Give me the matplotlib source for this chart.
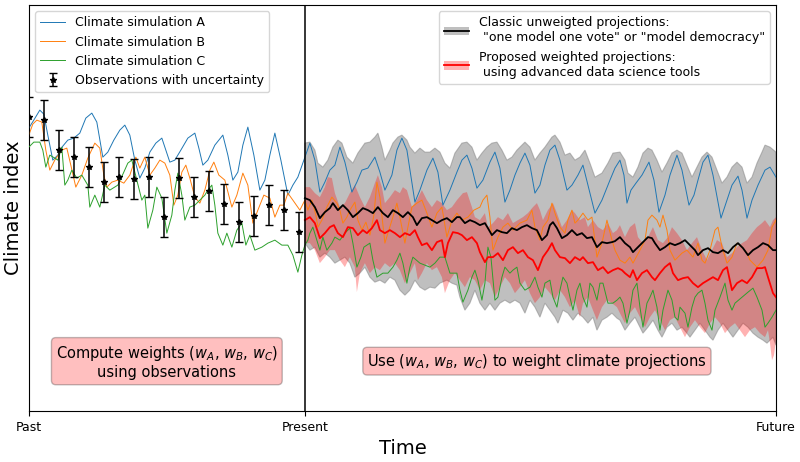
import matplotlib.pyplot as plt
from matplotlib.patches import Patch
from matplotlib.lines import Line2D

# Time axis labels
tick_pos = [29, 305, 776]
tick_labels = ['Past', 'Present', 'Future']
present = 305

# Climate simulation A (blue)
a_time = [29, 34, 40, 44, 48, 53, 58, 63, 68, 74, 80, 86, 92, 97, 103, 108, 114, 120, 125, 130,
          135, 140, 145, 150, 156, 162, 166, 170, 175, 181, 188, 195, 199, 203, 208, 215, 223, 228, 233, 238,
          243, 248, 254, 260, 265, 270, 275, 281, 288, 293, 298, 305,
          310, 315, 320, 325, 330, 335, 340, 345, 352, 357, 362, 368, 375, 380, 385, 392, 397, 402,
          407, 415, 420, 427, 433, 438, 443, 450, 457, 462, 467, 472, 477, 483, 490, 495, 500, 505,
          510, 515, 520, 525, 530, 535, 540, 545, 550, 555, 560, 567, 572, 578, 583, 588, 595, 602,
          610, 615, 620, 624, 627, 631, 636, 642, 649, 654, 659, 665, 670, 677, 682, 689, 694, 698,
          703, 708, 713, 721, 727, 732, 738, 742, 747, 752, 758, 765, 770, 776]
a_value = [283, 291, 301, 297, 276, 251, 256, 265, 271, 273, 278, 293, 298, 289, 254, 259, 271, 281, 286, 276,
           251, 233, 243, 259, 268, 273, 261, 249, 251, 261, 273, 278, 263, 246, 251, 266, 276, 256, 231, 239,
           266, 284, 256, 221, 231, 256, 278, 251, 216, 226, 234, 254,
           268, 251, 219, 229, 241, 246, 264, 249, 219, 229, 241, 243, 254, 239, 221, 236, 261, 273,
           261, 209, 221, 241, 253, 239, 206, 221, 239, 251, 256, 243, 223, 231, 249, 259, 243, 209,
           221, 236, 248, 258, 246, 218, 226, 246, 261, 266, 251, 221, 226, 236, 246, 226, 198, 211,
           231, 243, 251, 236, 208, 221, 228, 236, 249, 231, 199, 216, 236, 256, 241, 206, 216, 231,
           249, 256, 236, 193, 211, 226, 235, 221, 193, 211, 226, 241, 244, 234]

# Climate simulation B (orange)
b_time = [29, 33, 37, 42, 46, 50, 55, 62, 67, 71, 76, 82, 88, 95, 100, 104, 107, 112, 118, 124,
          130, 136, 140, 145, 150, 155, 160, 165, 170, 174, 178, 182, 186, 190, 195, 200, 205, 210, 214, 219,
          225, 232, 237, 243, 248, 253, 258, 264, 270, 275, 280, 284, 288, 293, 300, 305,
          308, 312, 316, 318, 322, 327, 332, 337, 340, 343, 347, 350, 355, 358, 362, 366, 370, 374,
          377, 380, 385, 388, 393, 397, 400, 405, 408, 412, 417, 422, 427, 432, 437, 442, 447, 452,
          457, 462, 468, 474, 480, 483, 487, 490, 493, 498, 503, 508, 513, 520, 527, 532, 535, 540,
          543, 548, 552, 555, 560, 565, 568, 572, 575, 578, 583, 588, 592, 597, 602, 607, 612, 615,
          620, 625, 630, 633, 640, 645, 648, 652, 657, 660, 663, 667, 670, 675, 682, 687, 693, 698,
          702, 705, 710, 715, 718, 722, 727, 732, 737, 742, 747, 750, 757, 763, 768, 772, 776]
b_value = [276, 287, 291, 289, 261, 241, 251, 261, 263, 246, 224, 236, 253, 268, 263, 236, 224, 229, 231, 228,
           236, 254, 243, 254, 236, 243, 251, 248, 236, 206, 216, 239, 246, 233, 214, 208, 221, 241, 249, 236,
           231, 204, 216, 238, 226, 188, 201, 216, 213, 194, 206, 206, 218, 211, 201, 211,
           201, 211, 196, 184, 191, 204, 214, 208, 201, 188, 194, 201, 209, 191, 181, 189, 176, 196,
           229, 214, 168, 178, 194, 208, 194, 168, 184, 204, 208, 211, 198, 184, 198, 204, 174, 191,
           198, 191, 194, 201, 204, 211, 216, 194, 161, 174, 184, 188, 181, 188, 191, 201, 184, 171,
           184, 191, 208, 198, 184, 178, 191, 201, 188, 191, 198, 191, 194, 154, 168, 191, 171, 161,
           151, 148, 154, 148, 161, 171, 191, 196, 191, 184, 196, 181, 161, 151, 158, 161, 154, 168,
           151, 148, 161, 181, 184, 164, 148, 154, 168, 164, 158, 151, 144, 151, 161, 184, 191]

# Climate simulation C (green)
c_time = [29, 34, 40, 43, 46, 50, 55, 58, 62, 65, 68, 72, 77, 82, 88, 90, 95, 100, 105, 110,
          118, 124, 128, 132, 137, 142, 145, 148, 153, 157, 162, 167, 172, 175, 178, 182, 185, 190, 195, 200,
          205, 208, 212, 215, 218, 223, 227, 232, 237, 242, 246, 250, 255, 262, 268, 275, 282, 288, 293, 298,
          302, 305,
          308, 310, 313, 317, 320, 323, 327, 332, 335, 340, 345, 350, 353, 357, 361, 364, 370, 373,
          377, 383, 388, 393, 397, 400, 403, 407, 410, 413, 420, 430, 435, 440, 445, 450, 457, 460,
          463, 468, 472, 475, 478, 482, 485, 488, 491, 495, 498, 502, 505, 510, 513, 517, 520, 525,
          530, 535, 538, 542, 545, 550, 553, 557, 560, 563, 567, 570, 573, 577, 580, 583, 587, 590,
          593, 597, 600, 603, 608, 613, 617, 620, 623, 627, 630, 633, 637, 640, 643, 647, 650, 653,
          657, 660, 663, 668, 672, 675, 678, 680, 685, 688, 692, 695, 698, 702, 705, 708, 712, 715,
          720, 725, 728, 732, 735, 742, 748, 753, 757, 762, 765, 768, 772, 776]
c_value = [264, 269, 269, 261, 244, 256, 253, 251, 264, 226, 231, 241, 233, 236, 226, 204, 216, 204, 226, 221,
           226, 239, 248, 251, 231, 211, 216, 183, 201, 224, 213, 178, 196, 221, 238, 216, 191, 204, 206, 211,
           216, 221, 226, 206, 178, 166, 178, 164, 181, 188, 166, 176, 161, 164, 168, 171, 166, 166, 156, 139,
           156, 166,
           171, 178, 184, 171, 161, 174, 161, 168, 174, 171, 178, 183, 168, 144, 154, 164, 168, 151,
           134, 138, 138, 144, 151, 158, 148, 128, 144, 154, 148, 144, 148, 154, 154, 138, 138, 121,
           109, 121, 134, 141, 131, 111, 128, 164, 154, 111, 114, 134, 144, 138, 141, 144, 128, 121,
           124, 134, 124, 114, 128, 131, 114, 104, 121, 134, 128, 114, 101, 121, 128, 114, 104, 128,
           124, 111, 128, 128, 108, 108, 111, 114, 108, 88, 101, 121, 128, 104, 84, 108, 114, 121,
           104, 81, 101, 121, 111, 94, 91, 104, 98, 84, 104, 114, 118, 121, 108, 91, 81, 101,
           114, 128, 111, 101, 108, 114, 119, 123, 114, 101, 84, 88, 94, 101]

# Observations with uncertainty
obs_time = [29, 44, 59, 74, 89, 104, 119, 134, 149, 164, 179, 194, 209, 224, 239, 254, 269, 284, 299]
obs_value = [294, 291, 261, 254, 244, 229, 234, 232, 234, 194, 233, 214, 220, 207, 189, 195, 206, 201, 179]
obs_error = 20

# Classic unweighted projections: mean and envelope
mean_time = [305, 310, 315, 320, 325, 330, 333, 338, 343, 348, 353, 358, 363, 368, 373, 378, 383, 388, 393, 398,
             403, 408, 413, 417, 422, 427, 432, 437, 442, 447, 452, 457, 460, 465, 470, 475, 480, 485, 488, 492,
             497, 502, 507, 512, 517, 522, 527, 532, 537, 542, 547, 550, 553, 557, 562, 567, 572, 577, 582, 587,
             592, 597, 602, 607, 612, 615, 620, 625, 630, 633, 638, 643, 648, 652, 655, 660, 665, 670, 675, 680,
             685, 690, 695, 698, 703, 708, 713, 718, 723, 728, 733, 738, 743, 748, 753, 758, 763, 768, 773, 776]
mean_value = [213, 211, 204, 193, 199, 203, 208, 201, 206, 201, 194, 198, 203, 201, 198, 204, 198, 194, 201, 198,
              194, 199, 194, 186, 193, 194, 191, 188, 191, 193, 189, 194, 194, 188, 191, 189, 186, 188, 183, 176,
              181, 179, 178, 183, 181, 184, 186, 183, 181, 171, 176, 186, 189, 183, 173, 176, 181, 176, 178, 173,
              174, 164, 169, 168, 169, 170, 174, 168, 164, 159, 164, 169, 174, 173, 168, 161, 164, 168, 166, 168,
              171, 166, 161, 156, 161, 163, 159, 158, 161, 158, 164, 168, 163, 156, 161, 164, 168, 166, 161, 161]

grey_top_time = [305, 310, 315, 318, 323, 328, 333, 338, 342, 347, 353, 358, 365, 370, 375, 378, 382, 385, 390, 393,
                 398, 402, 407, 410, 415, 420, 425, 430, 435, 440, 445, 450, 455, 462, 467, 472, 477, 482, 487, 492,
                 497, 502, 507, 512, 517, 522, 525, 530, 535, 540, 545, 552, 555, 560, 565, 570, 575, 580, 585, 590,
                 595, 602, 608, 613, 620, 625, 628, 633, 638, 643, 648, 652, 657, 662, 667, 672, 677, 682, 687, 692,
                 697, 702, 707, 712, 717, 722, 727, 732, 737, 742, 747, 752, 757, 762, 765, 770, 776]
grey_top = [268, 269, 261, 248, 244, 251, 264, 271, 268, 254, 248, 258, 268, 269, 274, 278, 264, 251, 261, 268,
            274, 276, 271, 264, 258, 263, 259, 259, 263, 259, 248, 243, 258, 268, 269, 264, 251, 258, 264, 268,
            269, 261, 251, 254, 261, 266, 269, 264, 251, 258, 264, 274, 276, 269, 256, 258, 251, 254, 261, 248,
            234, 238, 248, 258, 259, 251, 238, 234, 244, 258, 263, 261, 251, 239, 248, 258, 261, 258, 246, 234,
            244, 254, 259, 254, 241, 228, 234, 244, 249, 244, 228, 234, 248, 259, 266, 264, 259]
grey_bot_time = [305, 310, 315, 320, 325, 330, 335, 340, 345, 350, 355, 360, 365, 370, 375, 380, 385, 390, 395, 400,
                 405, 410, 415, 420, 425, 430, 435, 440, 447, 452, 457, 460, 465, 470, 475, 480, 485, 490, 495, 500,
                 505, 510, 515, 520, 525, 530, 535, 540, 545, 550, 555, 558, 563, 568, 573, 578, 583, 588, 593, 597,
                 602, 607, 612, 617, 620, 625, 630, 635, 640, 643, 648, 653, 658, 662, 667, 672, 677, 682, 687, 690,
                 695, 700, 705, 710, 713, 718, 723, 728, 733, 738, 743, 748, 753, 758, 763, 767, 770, 773, 776]
grey_bot = [168, 161, 164, 154, 158, 154, 148, 151, 154, 148, 134, 138, 144, 134, 129, 131, 128, 134, 131, 121,
            116, 121, 131, 124, 121, 124, 123, 128, 131, 128, 126, 114, 101, 108, 121, 108, 101, 108, 101, 108,
            111, 108, 111, 108, 98, 111, 104, 94, 108, 101, 94, 88, 101, 98, 91, 98, 94, 88, 94, 81,
            91, 94, 98, 93, 91, 81, 88, 94, 84, 78, 84, 91, 81, 74, 84, 88, 81, 84, 78, 74,
            81, 88, 81, 74, 71, 81, 88, 81, 74, 81, 88, 84, 78, 74, 71, 68, 71, 74, 66]

# Proposed weighted projections: mean and envelope
wmean_time = [305, 310, 315, 320, 325, 330, 334, 338, 343, 348, 353, 358, 363, 367, 372, 377, 380, 385, 390, 395,
              400, 405, 410, 415, 418, 422, 427, 432, 437, 442, 445, 448, 453, 458, 462, 467, 472, 477, 480, 485,
              488, 493, 498, 503, 508, 513, 518, 523, 528, 533, 538, 543, 548, 552, 555, 560, 565, 570, 575, 580,
              583, 588, 593, 598, 603, 608, 613, 618, 622, 625, 630, 633, 637, 642, 647, 652, 655, 660, 665, 670,
              673, 678, 683, 688, 693, 698, 703, 708, 713, 718, 723, 727, 732, 737, 742, 747, 752, 757, 762, 765,
              768, 773, 776]
wmean_value = [191, 194, 188, 173, 178, 184, 186, 178, 174, 184, 183, 176, 181, 178, 183, 191, 181, 178, 181, 178,
               174, 178, 176, 181, 174, 166, 168, 161, 169, 171, 154, 168, 179, 178, 176, 171, 174, 168, 159, 149,
               154, 154, 158, 151, 161, 164, 158, 161, 154, 151, 141, 154, 161, 168, 161, 154, 153, 148, 154, 151,
               154, 148, 149, 141, 144, 138, 141, 143, 141, 138, 134, 141, 131, 138, 141, 134, 131, 138, 144, 148,
               138, 131, 133, 134, 128, 124, 128, 131, 134, 131, 141, 144, 121, 128, 131, 128, 134, 143, 143, 144,
               134, 118, 114]

red_top_time = [305, 310, 315, 320, 325, 328, 332, 335, 340, 345, 350, 355, 360, 365, 370, 375, 378, 382, 385, 390,
                395, 400, 403, 407, 412, 417, 422, 427, 432, 437, 442, 447, 452, 457, 463, 467, 472, 475, 480, 485,
                488, 493, 498, 503, 508, 513, 518, 523, 528, 533, 537, 540, 543, 548, 553, 557, 562, 567, 572, 575,
                580, 585, 588, 593, 598, 603, 608, 613, 617, 620, 625, 630, 635, 638, 643, 648, 653, 658, 663, 668,
                672, 677, 682, 687, 692, 697, 702, 707, 712, 717, 722, 727, 732, 737, 742, 747, 752, 757, 762, 765,
                770, 773, 776]
red_top = [224, 224, 218, 214, 224, 234, 233, 218, 204, 208, 218, 226, 214, 204, 214, 228, 236, 224, 208, 214,
           221, 218, 224, 221, 204, 211, 221, 211, 204, 211, 208, 201, 204, 211, 218, 219, 204, 194, 191, 198,
           184, 188, 194, 191, 198, 188, 191, 194, 198, 204, 208, 201, 191, 201, 208, 198, 184, 191, 201, 198,
           191, 194, 184, 191, 184, 181, 188, 178, 181, 186, 174, 184, 188, 174, 168, 174, 184, 171, 168, 174,
           184, 178, 171, 161, 168, 174, 161, 151, 161, 171, 168, 154, 158, 164, 168, 171, 178, 184, 188, 191,
           184, 191, 194]
red_bot_time = [305, 310, 315, 320, 325, 330, 335, 340, 345, 350, 355, 357, 360, 365, 370, 375, 380, 385, 390, 395,
                400, 405, 410, 415, 418, 422, 427, 432, 437, 442, 445, 450, 455, 460, 465, 470, 475, 480, 485, 490,
                495, 500, 505, 510, 515, 520, 525, 530, 535, 540, 545, 550, 555, 560, 565, 570, 575, 580, 583, 588,
                593, 597, 602, 607, 612, 617, 622, 625, 630, 635, 640, 645, 650, 655, 660, 665, 670, 675, 680, 685,
                690, 695, 700, 705, 710, 715, 720, 725, 730, 735, 740, 745, 750, 755, 760, 765, 768, 770, 772, 774,
                776]
red_bot = [168, 168, 161, 148, 154, 161, 161, 151, 144, 154, 144, 119, 138, 148, 138, 144, 141, 148, 144, 148,
           141, 128, 138, 148, 131, 138, 148, 141, 144, 134, 118, 131, 138, 131, 124, 134, 131, 121, 131, 128,
           114, 124, 134, 128, 118, 124, 131, 118, 108, 114, 124, 118, 111, 121, 114, 104, 111, 94, 108, 114,
           101, 91, 104, 111, 108, 104, 94, 88, 98, 104, 94, 84, 94, 101, 91, 81, 91, 94, 84, 74,
           84, 91, 84, 78, 88, 94, 88, 78, 84, 88, 81, 74, 81, 84, 78, 74, 81, 68, 51, 56,
           71]

# Set up figure
fig, ax = plt.subplots(figsize=(8, 4.62), dpi=100)
plt.subplots_adjust(left=0.036, right=0.97, top=0.989, bottom=0.11)

# Envelopes of the projections
ax.fill(grey_top_time + grey_bot_time[::-1], grey_top + grey_bot[::-1],
        color='grey', alpha=0.5, lw=0.8, zorder=1)
ax.fill(red_top_time + red_bot_time[::-1], red_top + red_bot[::-1],
        color='red', alpha=0.3, lw=0, zorder=2)

# Climate simulations
line_a, = ax.plot(a_time, a_value, color='tab:blue', lw=0.7, zorder=3, label='Climate simulation A')
line_b, = ax.plot(b_time, b_value, color='tab:orange', lw=0.7, zorder=3, label='Climate simulation B')
line_c, = ax.plot(c_time, c_value, color='tab:green', lw=0.7, zorder=3, label='Climate simulation C')

# Projection means
ax.plot(mean_time, mean_value, color='black', lw=1.3, zorder=4)
ax.plot(wmean_time, wmean_value, color='red', lw=1.3, zorder=4)

# Observations
obs = ax.errorbar(obs_time, obs_value, yerr=obs_error, fmt='*', color='black', ms=4,
                  capsize=3, elinewidth=1.1, zorder=5, label='Observations with uncertainty')

ax.axvline(present, color='black', lw=1.1, zorder=6)

# Legends
leg1 = ax.legend(handles=[line_a, line_b, line_c, obs], loc='upper left', fontsize=9)
ax.add_artist(leg1)
classic = (Patch(facecolor='grey', alpha=0.5), Line2D([], [], color='black', lw=1.3))
weighted = (Patch(facecolor='red', alpha=0.3), Line2D([], [], color='red', lw=1.3))
ax.legend([classic, weighted],
          ['Classic unweigted projections:\n "one model one vote" or "model democracy"',
           'Proposed weighted projections:\n using advanced data science tools'],
          loc='upper right', fontsize=9)

# Annotation boxes
box_style = dict(boxstyle='round', facecolor='red', alpha=0.25)
ax.text(167, 49, 'Compute weights ($w_A$, $w_B$, $w_C$)\nusing observations',
        ha='center', va='center', fontsize=10.5, bbox=box_style)
ax.text(537, 50, 'Use ($w_A$, $w_B$, $w_C$) to weight climate projections',
        ha='center', va='center', fontsize=10.5, bbox=box_style)

# Axes
ax.set_xlim(29, 776)
ax.set_ylim(0, 406)
ax.set_xticks(tick_pos)
ax.set_xticklabels(tick_labels, fontsize=9)
ax.set_yticks([])
ax.set_xlabel('Time', fontsize=14)
ax.set_ylabel('Climate index', fontsize=14)

plt.savefig('out.png', dpi=100)
